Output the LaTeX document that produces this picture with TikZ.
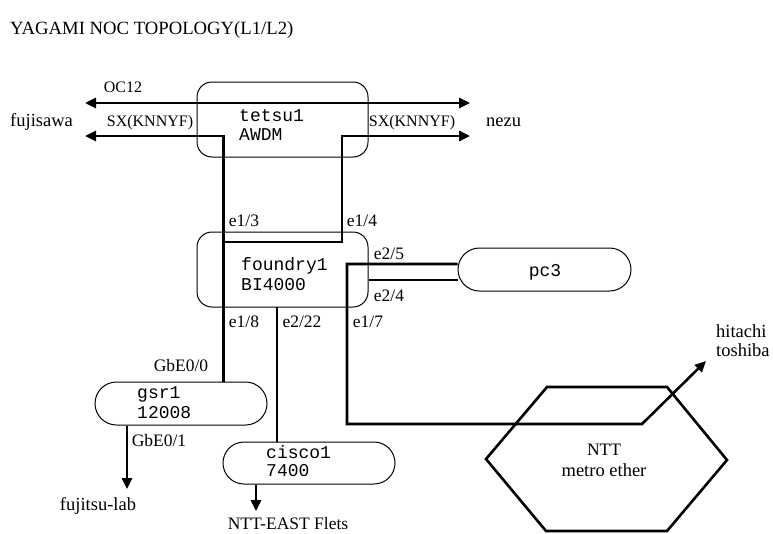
\documentclass[tikz,border=0pt]{standalone}
\usepackage{fontspec}
\setmainfont{Liberation Serif}
\setmonofont{Liberation Mono}
\usetikzlibrary{arrows.meta}
\tikzset{
  box/.style={draw, line width=1pt, rounded corners=#1, inner sep=0pt},
  link/.style={line width=2.6pt},
  tip/.tip={Triangle[length=11pt,width=10pt]},
  arr/.style={link, -tip},
  dblarr/.style={link, tip-tip},
  lbl/.style={font=\fontsize{16}{18}\selectfont, inner sep=0pt, anchor=base},
  lblw/.style={lbl, anchor=base west},
  lower/.style={font=\fontsize{18.5}{20}\selectfont},
  port/.style={font=\fontsize{17.5}{20}\selectfont},
  dev/.style={font=\fontsize{18}{20}\ttfamily\selectfont, inner sep=0pt, anchor=base west},
}
\begin{document}
\begin{tikzpicture}[x=1pt,y=-1pt]
\useasboundingbox (0,0) rectangle (773,533);
% title
\node[anchor=base west, inner sep=0pt, font=\fontsize{18.7}{22}\selectfont] (title) at (10,34) {YAGAMI NOC TOPOLOGY(L1/L2)};
% device boxes
\node[box=15pt, minimum width=171pt, minimum height=75pt] (tetsu) at (282.5,119.5) {};
\node[box=15pt, minimum width=171pt, minimum height=75pt] (foundry) at (282.5,269.5) {};
\node[box=21.5pt, minimum width=173pt, minimum height=43pt] (pc3) at (544.5,269.5) {};
\node[box=21.5pt, minimum width=172pt, minimum height=43pt] (gsr) at (181,403.5) {};
\node[box=21pt, minimum width=172pt, minimum height=42pt] (cisco) at (309,463) {};
% device texts
\node[dev] (tetsuA) at (239,121.7) {tetsu1};
\node[dev] (tetsuB) at (239,140) {AWDM};
\node[dev] (foundryA) at (241,270) {foundry1};
\node[dev] (foundryB) at (241,290) {BI4000};
\node[dev, anchor=base] (pc3T) at (545,276.7) {pc3};
\node[dev] (gsrA) at (137,398.3) {gsr1};
\node[dev] (gsrB) at (137,418.3) {12008};
\node[dev] (ciscoA) at (266,458.3) {cisco1};
\node[dev] (ciscoB) at (266,476.7) {7400};
% hexagon (NTT metro ether)
\coordinate (h1) at (486,459);
\coordinate (h2) at (547,387);
\coordinate (h3) at (667,387);
\coordinate (h4) at (727,460);
\coordinate (h5) at (667,531);
\coordinate (h6) at (546,531);
\draw[line width=2.6pt, line join=miter] (h1) -- (h2) -- (h3) -- (h4) -- (h5) -- (h6) -- cycle;
\node[lbl, port] (nttA) at (604,455) {NTT};
\node[lbl, lower] (nttB) at (604,476.7) {metro ether};
% coordinates for connectors
\coordinate (fOC) at (85,103);
\coordinate (nOC) at (470,103);
\coordinate (fSX) at (85,136);
\coordinate (nSX) at (470,136);
\coordinate (c13) at (223.5,136);
\coordinate (c14) at (342,136);
\coordinate (j14) at (223.5,242);
\coordinate (c25) at (347,264);
\coordinate (c24) at (369,280);
\coordinate (c222) at (277,307);
\coordinate (hx) at (642,424);
\coordinate (hit) at (706,361);
\coordinate (fl) at (127,489);
\coordinate (ne) at (256,511);
% connectors
\draw[dblarr] (fOC) -- (nOC);
\draw[arr] (c13 |- gsr.north) -- (c13) -- (fSX);
\draw[arr, line join=miter] (j14) -| (c14) -- (nSX);
\draw[arr, line join=miter] (pc3.west |- c25) -- (c25) |- (hx) -- (hit);
\draw[link] (c24) -- (pc3.west |- c24);
\draw[link] (c222) -- (c222 |- cisco.north);
\draw[arr] (fl |- gsr.south) -- (fl);
\draw[arr] (ne |- cisco.south) -- (ne);
% labels
\node[lbl] (lOC) at (123,92.7) {OC12};
\node[lblw, lower] (lfuji) at (10,126) {fujisawa};
\node[lbl] (lsxl) at (150,126.5) {SX(KNNYF)};
\node[lbl] (lsxr) at (412,126.5) {SX(KNNYF)};
\node[lblw, lower] (lnezu) at (486,126.5) {nezu};
\node[lbl, port] (l13) at (244,226.7) {e1/3};
\node[lbl, port] (l14) at (362,226.7) {e1/4};
\node[lbl, port] (l25) at (389,259) {e2/5};
\node[lbl, port] (l24) at (389,301.7) {e2/4};
\node[lbl, port] (l18) at (244,327) {e1/8};
\node[lbl, port] (l222) at (302,327) {e2/22};
\node[lbl, port] (l17) at (368,327) {e1/7};
\node[lbl, port] (lg0) at (181,371.7) {GbE0/0};
\node[lbl, port] (lg1) at (159,446.7) {GbE0/1};
\node[lbl, lower] (lfl) at (98,510) {fujitsu-lab};
\node[lbl, port] (lne) at (288,529) {NTT-EAST Flets};
\node[lblw, lower] (lhit) at (716,337.7) {hitachi};
\node[lblw, lower] (ltos) at (716,356.7) {toshiba};
\end{tikzpicture}
\end{document}
